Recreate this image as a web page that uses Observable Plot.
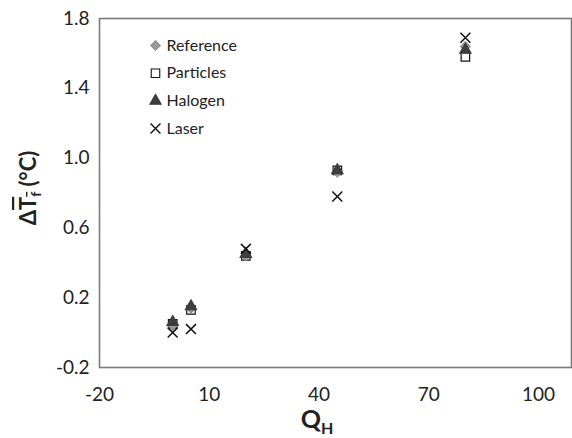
<!DOCTYPE html>
<html>
<head>
<meta charset="utf-8">
<script src="https://cdn.jsdelivr.net/npm/d3@7"></script>
<script src="https://cdn.jsdelivr.net/npm/@observablehq/plot@0.6"></script>
<style>
  html, body { margin: 0; padding: 0; background: #fff; }
  #chart { width: 572px; height: 438px; }
</style>
</head>
<body>
<div id="chart"></div>
<script>
// ---- data ----
const qH = [0, 5, 20, 45, 80];
const reference = [0.04, 0.14, 0.44, 0.92, 1.64];
const particles = [0.05, 0.13, 0.44, 0.93, 1.58];
const halogen   = [0.06, 0.15, 0.45, 0.93, 1.62];
const laser     = [0.00, 0.02, 0.48, 0.78, 1.69];
const seriesNames = ["Reference", "Particles", "Halogen", "Laser"];
const xTicks = [-20, 10, 40, 70, 100];
const yTicks = [-0.2, 0.2, 0.6, 1.0, 1.4, 1.8];

const seriesValues = [reference, particles, halogen, laser];
const styles = {
  Reference: {symbol: "diamond2", fill: "#9a9a9a", stroke: "#8f8f8f", r: 4.3},
  Particles: {symbol: "square", fill: "none", stroke: "#111", r: 4.8},
  Halogen:   {symbol: "triangle", fill: "#3d3d3d", stroke: "#3d3d3d", r: 4.2},
  Laser:     {symbol: "times", fill: "none", stroke: "#111", r: 4.6}
};
const drawOrder = ["Particles", "Reference", "Halogen", "Laser"];

const rows = [];
seriesNames.forEach((name, i) => {
  qH.forEach((q, j) => rows.push({series: name, q, dt: seriesValues[i][j]}));
});

const font = "Lato, 'Open Sans', sans-serif";
const hyphen = s => String(s).replace("\u2212", "-");
const marks = [
  Plot.frame({stroke: "#7a7a7a", strokeWidth: 1.6})
];
drawOrder.forEach(name => {
  const s = styles[name];
  marks.push(Plot.dot(rows.filter(d => d.series === name), {
    x: "q", y: "dt", symbol: () => s.symbol, r: s.r,
    fill: s.fill, stroke: s.stroke, strokeWidth: name === "Laser" ? 1.5 : 1.2
  }));
});
// legend inside the frame (top-left)
seriesNames.forEach((name, i) => {
  const s = styles[name];
  marks.push(Plot.dot([name], {
    frameAnchor: "top-left", dx: 56, dy: 27 + i * 27.7,
    symbol: () => s.symbol, r: s.r,
    fill: name === "Particles" ? "white" : s.fill, stroke: s.stroke,
    strokeWidth: name === "Laser" ? 1.4 : 1.1
  }));
  marks.push(Plot.text([name], {
    frameAnchor: "top-left", dx: 67, dy: 27 + i * 27.7,
    text: d => d, textAnchor: "start", lineAnchor: "middle", fontSize: 16, fill: "#222"
  }));
});

const chart = Plot.plot({
  width: 572,
  height: 438,
  marginLeft: 99,
  marginRight: 1,
  marginTop: 18,
  marginBottom: 71,
  style: {fontFamily: font, fontSize: "19px", color: "#222", background: "white"},
  symbol: {type: "identity"},
  x: {domain: [-20, 109], ticks: xTicks, tickSize: 0, tickPadding: 20, label: null,
      tickFormat: d => hyphen(d3.format("d")(d))},
  y: {domain: [-0.2, 1.8], ticks: yTicks, tickSize: 0, tickPadding: 10, label: null,
      tickFormat: d => hyphen(d.toFixed(1))},
  marks
});
document.getElementById("chart").appendChild(chart);

// axis titles with subscript / overline
const svg = d3.select(chart);
const xt = svg.append("text")
  .attr("x", 317).attr("y", 428)
  .attr("text-anchor", "middle")
  .style("font-family", font).style("font-weight", "bold").style("font-size", "25px")
  .attr("fill", "#222");
xt.append("tspan").text("Q");
xt.append("tspan").attr("dy", 6).style("font-size", "16px").text("H");

const yt = svg.append("text")
  .attr("transform", "translate(36,188) rotate(-90)")
  .attr("text-anchor", "middle")
  .style("font-family", font).style("font-weight", "bold").style("font-size", "22px")
  .attr("fill", "#222");
yt.append("tspan").text("Δ");
yt.append("tspan").style("text-decoration", "overline").text("T");
yt.append("tspan").attr("dy", 5).style("font-size", "14px").style("text-decoration", "overline").text("f");
yt.append("tspan").attr("dy", -5).text(" (°C)");
</script>
</body>
</html>
